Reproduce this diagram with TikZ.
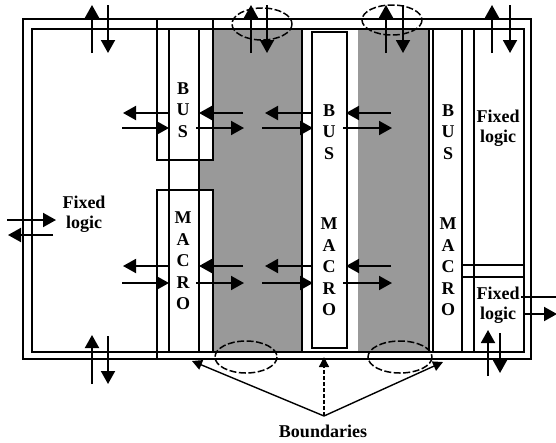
\documentclass[tikz,border=0pt]{standalone}
\usepackage{fontspec}
\setmainfont{Liberation Serif}
\usetikzlibrary{arrows.meta}
\definecolor{fillgray}{RGB}{153,153,153}
\begin{document}
\begin{tikzpicture}[x=1pt,y=-1pt,
  ln/.style={line width=1.9pt},
  arr/.style={line width=1.9pt,-{Triangle[length=13pt,width=14pt]}},
  barr/.style={line width=1.4pt,-{Triangle[length=10pt,width=10pt]}},
  bnd/.style={line width=1.5pt, dash pattern=on 7pt off 2.5pt},
  lbl/.style={font=\bfseries\fontsize{18}{20}\selectfont, align=center, inner sep=0pt},
  vlbl/.style={font=\bfseries\fontsize{18}{21.5}\selectfont, align=center, inner sep=0pt}]
\useasboundingbox (0,0) rectangle (556,442);
% gray fields
\fill[fillgray] (200,29) rectangle (302,352);
\fill[fillgray] (358,29) rectangle (429,352);
% white boxes of the left column
\fill[white] (157,19) rectangle (213,160);
\fill[white] (157,190) rectangle (213,352);
% frame
\draw[ln] (23,19) rectangle (531,359);
\draw[ln] (32,29) rectangle (524,352);
% left column
\draw[ln] (157,19) -- (157,160) -- (213,160) -- (213,19);
\draw[ln] (157,359) -- (157,190) -- (213,190) -- (213,352);
\draw[ln] (169,29) -- (169,352) (199,29) -- (199,352);
% middle column
\draw[ln] (302,29) -- (302,352);
\draw[ln] (312,32) rectangle (347,348);
% right column
\draw[ln] (429,29) -- (429,352) (433,29) -- (433,352) (462,29) -- (462,352) (474,29) -- (474,352);
\draw[ln] (462,265) -- (524,265) (462,277) -- (524,277);
% labels
\node[vlbl] (bus1) at (183,110) {B\\U\\S};
\node[vlbl] (mac1) at (183,261) {M\\A\\C\\R\\O};
\node[vlbl] (bus2) at (329,132) {B\\U\\S};
\node[vlbl] (mac2) at (329,267) {M\\A\\C\\R\\O};
\node[vlbl] (bus3) at (448,132) {B\\U\\S};
\node[vlbl] (mac3) at (448,267) {M\\A\\C\\R\\O};
\node[lbl] (fl1) at (84,214) {Fixed\\logic};
\node[lbl] (fl2) at (498,128) {Fixed\\logic};
\node[lbl] (fl3) at (498,305) {Fixed\\logic};
\node[lbl] (bnd) at (323,431) {Boundaries};
% boundary ellipses
\draw[bnd] (262,24) ellipse [x radius=30, y radius=16];
\draw[bnd] (392,20) ellipse [x radius=30, y radius=15];
\draw[bnd] (246,357) ellipse [x radius=31, y radius=16];
\draw[bnd] (400,357) ellipse [x radius=32, y radius=16];
% vertical arrows top
\draw[arr] (92,53) -- (92,5);   \draw[arr] (108,5) -- (108,53);
\draw[arr] (251,53) -- (251,5); \draw[arr] (267,5) -- (267,53);
\draw[arr] (386,53) -- (386,5); \draw[arr] (403,5) -- (403,53);
\draw[arr] (492,53) -- (492,5); \draw[arr] (510,5) -- (510,53);
% vertical arrows bottom
\draw[arr] (92,384) -- (92,335); \draw[arr] (108,336) -- (108,384);
\draw[arr] (488,376) -- (488,330); \draw[arr] (500,333) -- (500,373);
% side arrows
\draw[arr] (7,220) -- (56,220); \draw[arr] (53,235) -- (8,235);
\draw[ln] (521,297) -- (556,297); \draw[arr] (523,314) -- (557,314);
% horizontal arrows, bus row and macro row
\foreach \yl/\yr in {113/128, 266/283}{
  \draw[arr] (168,\yl) -- (123,\yl); \draw[arr] (122,\yr) -- (169,\yr);
  \draw[arr] (243,\yl) -- (199,\yl); \draw[arr] (196,\yr) -- (244,\yr);
  \draw[arr] (312,\yl) -- (265,\yl); \draw[arr] (262,\yr) -- (313,\yr);
  \draw[arr] (391,\yl) -- (346,\yl); \draw[arr] (343,\yr) -- (392,\yr);
}
% boundaries pointers
\coordinate (apex) at (324,416);
\draw[barr] (apex) -- (192,361);
\draw[barr, dash pattern=on 4pt off 2pt] (apex) -- (324,357);
\draw[barr] (apex) -- (443,362);
\end{tikzpicture}
\end{document}
